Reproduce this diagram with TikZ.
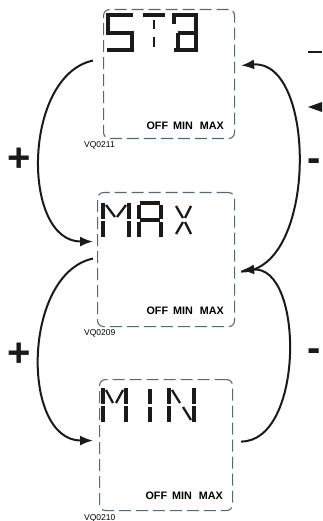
\documentclass[tikz,border=0pt]{standalone}
\usepackage{fontspec}
\setmainfont{Liberation Sans}
\usetikzlibrary{arrows.meta,calc}
\definecolor{boxgray}{HTML}{5A686E}
\definecolor{ink}{HTML}{1A1A1A}
\begin{document}
\begin{tikzpicture}[x=1pt,y=-1pt,
 lcd/.style={draw=boxgray, line width=1.1pt, dash pattern=on 12pt off 5pt, rounded corners=6pt, inner sep=0pt, anchor=north west},
 seg/.style={line width=4.2pt, ink},
 thinseg/.style={line width=2.3pt, ink},
 arr/.style={line width=2pt, ink, -{Latex[length=13pt,width=10pt]}},
 mode/.style={font=\bfseries\fontsize{10.8}{10.8}\selectfont, inner sep=0pt, anchor=east},
 code/.style={font=\fontsize{8.5}{8.5}\selectfont, inner sep=0pt, anchor=west},
 sign/.style={font=\bfseries\fontsize{40}{40}\selectfont, inner sep=0pt, ink}
]
\useasboundingbox (0,0) rectangle (322,521);
% boxes
\node[lcd, minimum width=131pt, minimum height=129pt] (b1) at (103,9) {};
\node[lcd, minimum width=137pt, minimum height=134pt] (b2) at (97,192) {};
\node[lcd, minimum width=133pt, minimum height=131pt] (b3) at (99,379) {};
% mode labels
\node[mode] (m1) at ([xshift=-11pt,yshift=13pt]b1.south east) {OFF\hspace{5pt}MIN\hspace{7pt}MAX};
\node[mode] (m2) at ([xshift=-11pt,yshift=16pt]b2.south east) {OFF\hspace{5pt}MIN\hspace{7pt}MAX};
\node[mode] (m3) at ([xshift=-10pt,yshift=15pt]b3.south east) {OFF\hspace{5pt}MIN\hspace{7pt}MAX};
% codes
\node[code] (c1) at ([xshift=-19pt,yshift=-6pt]b1.south west) {VQ0211};
\node[code] (c2) at ([xshift=-13pt,yshift=-6pt]b2.south west) {VQ0209};
\node[code] (c3) at ([xshift=-15pt,yshift=-7pt]b3.south west) {VQ0210};
% STB
\draw[seg,line join=miter] (133,15)--(108,15)--(108,33)--(132,33)--(132,50)--(107,50);
\draw[seg] (143,15)--(165,15);
\draw[thinseg] (154,20)--(154,29) (154,37)--(154,47);
\draw[seg,line join=miter] (174,24)--(174,15)--(196,15)--(196,50)--(174,50);
\draw[seg] (178,33)--(196,33);
\draw[seg] (178,33)--(178,50);
% MAX
\draw[seg] (103,203)--(103,219) (103,221)--(103,237) (129,203)--(129,219) (129,221)--(129,237);
\draw[thinseg] (106,205)--(115,217) (126,205)--(117,217);
\draw[seg] (140,203)--(160,203) (139,205)--(139,219) (161,205)--(161,219) (140,220)--(160,220) (139,222)--(139,237) (161,222)--(161,237);
\draw[thinseg] (176,206)--(183,218) (191,206)--(185,218) (183,222)--(176,234) (185,222)--(191,234);
% MIN
\draw[seg] (103,388)--(103,404) (103,406)--(103,422) (126,388)--(126,404) (126,406)--(126,422);
\draw[thinseg] (106,390)--(113,403) (123,390)--(116,403);
\draw[seg] (150,389)--(150,404) (150,407)--(150,422);
\draw[seg] (169,388)--(169,404) (169,406)--(169,422) (194,388)--(194,404) (194,406)--(194,422);
\draw[thinseg] (172,390)--(180,403) (183,407)--(191,420);
% left arrows (+)
\draw[arr] ([xshift=-10pt,yshift=13.5pt]b1.west) to[out=192,in=180,looseness=1.02] ([xshift=-4pt,yshift=18pt]b2.west);
\draw[arr] ([xshift=-4pt,yshift=1pt]b2.west) to[out=192,in=180,looseness=1.02] ([xshift=-6pt,yshift=4.5pt]b3.west);
% right arrows (-)
\draw[arr] ([xshift=6pt,yshift=-12pt]b2.east) to[out=0,in=5,looseness=0.95] ([xshift=6pt,yshift=8.5pt]b1.east);
\draw[arr] ([xshift=8pt,yshift=3.5pt]b3.east) to[out=0,in=5,looseness=0.95] ([xshift=6pt,yshift=-11pt]b2.east);
% signs
\node[sign] (p1) at (19,160) {+};
\node[sign] (p2) at (19,355) {+};
\node[sign] (n1) at (314,165) {-};
\node[sign] (n2) at (314,355) {-};
% cropped marks at right edge
\coordinate (e1) at (308,52);
\coordinate (e2) at (322,52);
\draw[ink,line width=1.4pt] (e1) -- (e2);
\fill[ink] (308,107) -- (322,102) -- (322,112) -- cycle;
\end{tikzpicture}
\end{document}
